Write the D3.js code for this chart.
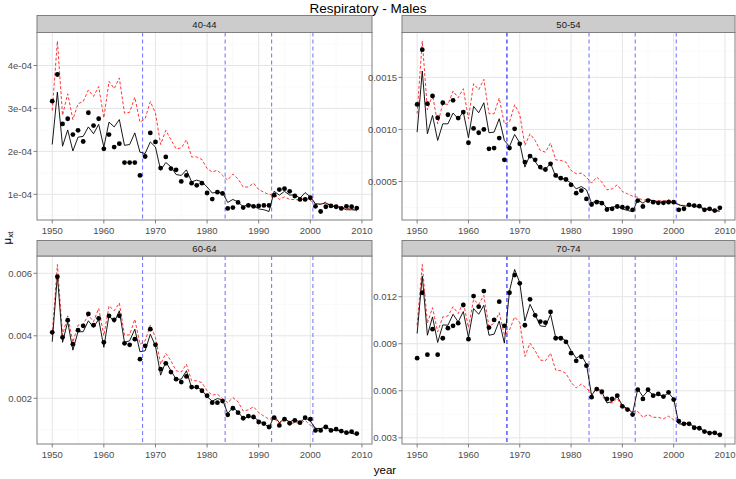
<!DOCTYPE html>
<html><head><meta charset="utf-8">
<script src="https://cdn.jsdelivr.net/npm/d3@7/dist/d3.min.js"></script>
<style>
body{margin:0;background:#fff;}
svg text{font-family:"Liberation Sans Narrow","Arial Narrow","Liberation Sans",Arial,sans-serif;}
</style></head>
<body><svg id="c" width="736" height="479"></svg>
<script>
const years = [1950,1951,1952,1953,1954,1955,1956,1957,1958,1959,1960,1961,1962,1963,1964,1965,1966,1967,1968,1969,
1970,1971,1972,1973,1974,1975,1976,1977,1978,1979,1980,1981,1982,1983,1984,1985,1986,1987,1988,1989,
1990,1991,1992,1993,1994,1995,1996,1997,1998,1999,2000,2001,2002,2003,2004,2005,2006,2007,2008,2009];
const ageGroups = ["40-44","50-54","60-64","70-74"];
const breakYears = [1967.5,1983.5,1992.5,2000.5];
const xTicks = [1950,1960,1970,1980,1990,2000,2010];

// 40-44
const obs4044 = [3.17e-4,3.79e-4,2.64e-4,2.76e-4,2.39e-4,2.49e-4,2.23e-4,2.90e-4,2.60e-4,2.76e-4,2.06e-4,2.39e-4,2.10e-4,2.18e-4,1.74e-4,1.74e-4,1.74e-4,1.44e-4,1.88e-4,2.43e-4,
2.22e-4,1.61e-4,1.87e-4,1.60e-4,1.57e-4,1.30e-4,1.44e-4,1.26e-4,1.21e-4,1.26e-4,1.03e-4,0.89e-4,1.05e-4,1.02e-4,0.67e-4,0.69e-4,0.81e-4,0.69e-4,0.74e-4,0.72e-4,
0.73e-4,0.74e-4,0.74e-4,0.98e-4,1.11e-4,1.13e-4,1.07e-4,0.96e-4,0.88e-4,0.88e-4,0.92e-4,0.72e-4,0.60e-4,0.71e-4,0.73e-4,0.71e-4,0.67e-4,0.72e-4,0.71e-4,0.68e-4];
const fit4044 = [2.16e-4,3.38e-4,2.12e-4,2.50e-4,2.01e-4,2.33e-4,2.35e-4,2.57e-4,2.41e-4,2.63e-4,2.10e-4,2.68e-4,2.57e-4,2.74e-4,2.14e-4,2.16e-4,2.43e-4,1.98e-4,1.95e-4,2.22e-4,
2.10e-4,1.56e-4,1.74e-4,1.64e-4,1.46e-4,1.44e-4,1.57e-4,1.29e-4,1.33e-4,1.29e-4,1.17e-4,1.03e-4,1.05e-4,1.04e-4,0.81e-4,0.88e-4,0.82e-4,0.71e-4,0.77e-4,0.73e-4,
0.66e-4,0.64e-4,0.60e-4,1.07e-4,0.98e-4,1.07e-4,0.98e-4,0.99e-4,0.91e-4,1.04e-4,0.94e-4,0.78e-4,0.77e-4,0.80e-4,0.73e-4,0.71e-4,0.69e-4,0.64e-4,0.64e-4,0.63e-4];
const alt4044 = [2.95e-4,4.57e-4,2.84e-4,3.34e-4,2.74e-4,3.11e-4,3.16e-4,3.43e-4,3.28e-4,3.51e-4,2.78e-4,3.63e-4,3.46e-4,3.71e-4,2.89e-4,2.91e-4,3.26e-4,2.68e-4,2.76e-4,3.16e-4,
2.89e-4,2.16e-4,2.49e-4,2.27e-4,2.06e-4,2.08e-4,2.27e-4,1.87e-4,1.87e-4,1.81e-4,1.60e-4,1.52e-4,1.56e-4,1.44e-4,1.33e-4,1.47e-4,1.36e-4,1.17e-4,1.17e-4,1.26e-4,
1.11e-4,1.05e-4,0.99e-4,1.00e-4,0.88e-4,0.94e-4,0.88e-4,0.88e-4,0.86e-4,0.92e-4,0.86e-4,0.77e-4,0.77e-4,0.82e-4,0.73e-4,0.72e-4,0.71e-4,0.67e-4,0.67e-4,0.61e-4];

// 50-54
const obs5054 = [12.40e-4,17.66e-4,12.47e-4,13.21e-4,11.12e-4,12.56e-4,11.41e-4,12.79e-4,11.09e-4,11.67e-4,8.72e-4,10.10e-4,9.68e-4,10.00e-4,8.14e-4,8.21e-4,9.17e-4,7.08e-4,8.21e-4,10.06e-4,
8.62e-4,6.86e-4,7.44e-4,7.08e-4,6.38e-4,6.15e-4,6.70e-4,5.58e-4,5.32e-4,5.19e-4,4.68e-4,3.88e-4,4.13e-4,3.33e-4,2.79e-4,3.01e-4,2.92e-4,2.31e-4,2.37e-4,2.60e-4,
2.53e-4,2.47e-4,2.28e-4,3.17e-4,2.60e-4,3.17e-4,3.01e-4,2.95e-4,2.95e-4,3.01e-4,3.01e-4,2.28e-4,2.37e-4,2.76e-4,2.69e-4,2.63e-4,2.28e-4,2.37e-4,2.21e-4,2.47e-4];
const fit5054 = [9.74e-4,15.61e-4,9.58e-4,11.35e-4,8.94e-4,10.54e-4,10.54e-4,11.57e-4,11.03e-4,11.67e-4,9.20e-4,12.21e-4,11.60e-4,12.56e-4,9.68e-4,9.74e-4,11.03e-4,8.94e-4,8.37e-4,9.52e-4,
8.69e-4,6.38e-4,7.56e-4,6.92e-4,6.22e-4,6.15e-4,6.76e-4,5.48e-4,5.35e-4,5.19e-4,4.84e-4,4.29e-4,4.52e-4,4.20e-4,2.92e-4,3.17e-4,3.01e-4,2.44e-4,2.53e-4,2.63e-4,
2.37e-4,2.21e-4,2.12e-4,3.24e-4,2.92e-4,3.27e-4,3.11e-4,3.01e-4,3.01e-4,3.11e-4,3.01e-4,2.76e-4,2.63e-4,2.69e-4,2.63e-4,2.53e-4,2.37e-4,2.31e-4,2.21e-4,2.15e-4];
const alt5054 = [11.51e-4,18.49e-4,11.89e-4,13.33e-4,10.54e-4,12.47e-4,12.40e-4,13.69e-4,13.04e-4,13.91e-4,11.03e-4,14.39e-4,13.81e-4,14.81e-4,11.51e-4,11.51e-4,13.01e-4,10.54e-4,10.71e-4,12.37e-4,
11.44e-4,8.46e-4,9.58e-4,8.94e-4,7.98e-4,7.82e-4,8.69e-4,7.08e-4,7.02e-4,6.86e-4,6.06e-4,5.74e-4,5.80e-4,5.42e-4,4.84e-4,5.42e-4,4.94e-4,4.20e-4,4.29e-4,4.68e-4,
4.04e-4,3.81e-4,3.59e-4,3.49e-4,3.17e-4,3.33e-4,3.17e-4,3.17e-4,3.11e-4,3.27e-4,3.01e-4,2.79e-4,2.69e-4,2.79e-4,2.63e-4,2.60e-4,2.37e-4,2.31e-4,2.21e-4,2.15e-4];

// 60-64
const obs6064 = [4.11e-3,5.89e-3,3.95e-3,4.50e-3,3.73e-3,4.18e-3,4.32e-3,4.70e-3,4.34e-3,4.56e-3,3.79e-3,4.64e-3,4.51e-3,4.64e-3,3.76e-3,3.71e-3,3.89e-3,3.25e-3,3.68e-3,4.21e-3,
3.71e-3,2.93e-3,3.12e-3,2.84e-3,2.61e-3,2.52e-3,2.70e-3,2.36e-3,2.36e-3,2.24e-3,2.08e-3,1.86e-3,1.86e-3,1.91e-3,1.47e-3,1.68e-3,1.54e-3,1.36e-3,1.43e-3,1.40e-3,
1.24e-3,1.19e-3,1.08e-3,1.38e-3,1.13e-3,1.33e-3,1.20e-3,1.29e-3,1.22e-3,1.38e-3,1.33e-3,0.97e-3,0.97e-3,1.08e-3,0.97e-3,1.01e-3,0.95e-3,0.90e-3,0.93e-3,0.87e-3];
const fit6064 = [3.81e-3,5.93e-3,3.79e-3,4.45e-3,3.54e-3,4.13e-3,4.13e-3,4.48e-3,4.27e-3,4.53e-3,3.63e-3,4.66e-3,4.43e-3,4.80e-3,3.79e-3,3.84e-3,4.21e-3,3.49e-3,3.52e-3,4.05e-3,
3.68e-3,2.74e-3,3.17e-3,2.88e-3,2.61e-3,2.61e-3,2.88e-3,2.34e-3,2.36e-3,2.26e-3,2.05e-3,1.91e-3,1.99e-3,1.95e-3,1.51e-3,1.71e-3,1.56e-3,1.36e-3,1.40e-3,1.41e-3,
1.27e-3,1.20e-3,1.06e-3,1.43e-3,1.22e-3,1.35e-3,1.24e-3,1.33e-3,1.22e-3,1.38e-3,1.27e-3,1.03e-3,1.03e-3,1.08e-3,0.98e-3,0.98e-3,0.95e-3,0.90e-3,0.90e-3,0.82e-3];
const alt6064 = [4.02e-3,6.28e-3,4.02e-3,4.64e-3,3.79e-3,4.34e-3,4.37e-3,4.66e-3,4.45e-3,4.88e-3,4.00e-3,4.96e-3,4.80e-3,5.05e-3,4.02e-3,4.03e-3,4.53e-3,3.73e-3,3.84e-3,4.34e-3,
3.95e-3,3.09e-3,3.44e-3,3.20e-3,2.88e-3,2.84e-3,3.09e-3,2.56e-3,2.56e-3,2.50e-3,2.24e-3,2.10e-3,2.13e-3,1.99e-3,1.86e-3,2.02e-3,1.89e-3,1.59e-3,1.63e-3,1.73e-3,
1.54e-3,1.43e-3,1.33e-3,1.35e-3,1.20e-3,1.29e-3,1.19e-3,1.22e-3,1.20e-3,1.29e-3,1.14e-3,1.06e-3,1.03e-3,1.11e-3,0.98e-3,0.97e-3,0.95e-3,0.90e-3,0.88e-3,0.81e-3];

// 70-74
const obs7074 = [8.08e-3,12.25e-3,8.30e-3,9.93e-3,8.30e-3,9.35e-3,9.99e-3,10.14e-3,10.31e-3,11.47e-3,9.29e-3,12.04e-3,11.36e-3,12.36e-3,10.03e-3,10.52e-3,11.68e-3,10.14e-3,12.25e-3,13.38e-3,
12.85e-3,10.18e-3,11.83e-3,10.81e-3,10.41e-3,10.35e-3,11.03e-3,9.35e-3,9.35e-3,9.12e-3,8.40e-3,7.91e-3,8.17e-3,7.60e-3,5.59e-3,6.11e-3,5.94e-3,5.48e-3,5.48e-3,5.69e-3,
5.01e-3,4.80e-3,4.48e-3,6.07e-3,5.48e-3,6.07e-3,5.69e-3,5.80e-3,5.63e-3,5.90e-3,5.44e-3,4.06e-3,3.89e-3,3.89e-3,3.64e-3,3.61e-3,3.40e-3,3.30e-3,3.32e-3,3.19e-3];
const fit7074 = [9.65e-3,13.31e-3,9.54e-3,10.71e-3,9.08e-3,10.20e-3,10.18e-3,10.88e-3,10.39e-3,11.05e-3,9.40e-3,11.24e-3,10.88e-3,11.45e-3,9.54e-3,9.61e-3,10.45e-3,9.04e-3,12.36e-3,13.74e-3,
12.89e-3,10.45e-3,11.51e-3,10.84e-3,10.14e-3,10.09e-3,10.88e-3,9.40e-3,9.40e-3,9.18e-3,8.55e-3,8.08e-3,8.27e-3,7.70e-3,5.69e-3,6.18e-3,5.94e-3,5.22e-3,5.31e-3,5.65e-3,
5.06e-3,4.85e-3,4.59e-3,6.11e-3,5.63e-3,6.01e-3,5.73e-3,5.75e-3,5.65e-3,5.86e-3,5.48e-3,3.89e-3,3.85e-3,3.93e-3,3.68e-3,3.61e-3,3.42e-3,3.32e-3,3.32e-3,3.15e-3];
const alt7074 = [10.18e-3,14.05e-3,10.31e-3,11.30e-3,9.76e-3,10.71e-3,10.77e-3,11.36e-3,10.92e-3,11.66e-3,10.03e-3,11.83e-3,11.51e-3,12.08e-3,10.09e-3,10.31e-3,10.98e-3,9.57e-3,9.88e-3,10.71e-3,
10.35e-3,8.19e-3,9.04e-3,8.55e-3,7.96e-3,7.91e-3,8.40e-3,7.32e-3,7.28e-3,7.11e-3,6.54e-3,6.18e-3,6.43e-3,6.16e-3,5.80e-3,6.16e-3,5.69e-3,5.27e-3,5.22e-3,5.52e-3,
4.95e-3,4.85e-3,4.68e-3,4.68e-3,4.31e-3,4.48e-3,4.31e-3,4.31e-3,4.21e-3,4.38e-3,4.14e-3,3.96e-3,3.85e-3,4.00e-3,3.72e-3,3.64e-3,3.40e-3,3.32e-3,3.32e-3,3.15e-3];

const yTicks4044 = [1e-4,2e-4,3e-4,4e-4];
const yLabels4044 = ["1e-04","2e-04","3e-04","4e-04"];
const yTicks5054 = [0.0005,0.0010,0.0015];
const yLabels5054 = ["0.0005","0.0010","0.0015"];
const yTicks6064 = [0.002,0.004,0.006];
const yLabels6064 = ["0.002","0.004","0.006"];
const yTicks7074 = [0.003,0.006,0.009,0.012];
const yLabels7074 = ["0.003","0.006","0.009","0.012"];

const panels = [
  {name:ageGroups[0], obs:obs4044, fit:fit4044, alt:alt4044, ticks:yTicks4044, labels:yLabels4044, col:0, row:0, darkFirst:false},
  {name:ageGroups[1], obs:obs5054, fit:fit5054, alt:alt5054, ticks:yTicks5054, labels:yLabels5054, col:1, row:0, darkFirst:true},
  {name:ageGroups[2], obs:obs6064, fit:fit6064, alt:alt6064, ticks:yTicks6064, labels:yLabels6064, col:0, row:1, darkFirst:false},
  {name:ageGroups[3], obs:obs7074, fit:fit7074, alt:alt7074, ticks:yTicks7074, labels:yLabels7074, col:1, row:1, darkFirst:true}
];

const colX = [[37,372],[402,735]];
const rowY = [{strip:15.5, top:32.5, bottom:220},{strip:240.5, top:256, bottom:444}];

const svg = d3.select("#c");
const textCol = "#4d4d4d";

svg.append("text").attr("x",368).attr("y",13).attr("text-anchor","middle")
  .attr("font-size",13.5).attr("fill","#000").text("Respiratory - Males");
svg.append("text").attr("x",385).attr("y",474).attr("text-anchor","middle")
  .attr("font-size",11.5).attr("fill","#000").text("year");
const yl = svg.append("text").attr("transform","translate(11,238) rotate(-90)").attr("text-anchor","middle")
  .attr("font-size",11.5).attr("fill","#000");
yl.append("tspan").text("μ");
yl.append("tspan").attr("font-size",8).attr("dy",2).text("xt");

const xExt = d3.extent(years);
const xPad = (xExt[1]-xExt[0])*0.05;

panels.forEach(p => {
  const [x0,x1] = colX[p.col];
  const r = rowY[p.row];
  const x = d3.scaleLinear().domain([xExt[0]-xPad, xExt[1]+xPad]).range([x0,x1]);
  const all = p.obs.concat(p.fit, p.alt);
  const ext = d3.extent(all);
  const yPad = (ext[1]-ext[0])*0.05;
  const y = d3.scaleLinear().domain([ext[0]-yPad, ext[1]+yPad]).range([r.bottom, r.top]);
  const g = svg.append("g");

  g.append("rect").attr("x",x0).attr("y",r.top).attr("width",x1-x0).attr("height",r.bottom-r.top).attr("fill","#fff");
  // minor grid
  const xMinor = xTicks.slice(0,-1).map(t=>t+5).concat([1945]).filter(t=>t>x.domain()[0]&&t<x.domain()[1]);
  g.selectAll(".xm").data(xMinor).enter().append("line")
    .attr("x1",d=>x(d)).attr("x2",d=>x(d)).attr("y1",r.top).attr("y2",r.bottom)
    .attr("stroke","#f7f7f7").attr("stroke-width",0.6);
  const step = p.ticks[1]-p.ticks[0];
  const yMinor = [p.ticks[0]-step/2].concat(p.ticks.map(t=>t+step/2)).filter(t=>t>y.domain()[0]&&t<y.domain()[1]);
  g.selectAll(".ym").data(yMinor).enter().append("line")
    .attr("y1",d=>y(d)).attr("y2",d=>y(d)).attr("x1",x0).attr("x2",x1)
    .attr("stroke","#f7f7f7").attr("stroke-width",0.6);
  // major grid
  g.selectAll(".xg").data(xTicks).enter().append("line")
    .attr("x1",d=>x(d)).attr("x2",d=>x(d)).attr("y1",r.top).attr("y2",r.bottom)
    .attr("stroke","#e5e5e5").attr("stroke-width",1);
  g.selectAll(".yg").data(p.ticks).enter().append("line")
    .attr("y1",d=>y(d)).attr("y2",d=>y(d)).attr("x1",x0).attr("x2",x1)
    .attr("stroke","#e5e5e5").attr("stroke-width",1);

  // break lines
  g.selectAll(".br").data(breakYears).enter().append("line")
    .attr("x1",d=>x(d)).attr("x2",d=>x(d)).attr("y1",r.top).attr("y2",r.bottom)
    .attr("stroke",(d,i)=> (i===0 && p.darkFirst) ? "#1a1aff" : "#7b7bff")
    .attr("stroke-width",1.1).attr("stroke-dasharray","4,3");

  // red dashed alternative
  const line = arr => d3.line().x((d,i)=>x(years[i])).y(d=>y(d))(arr);
  g.append("path").attr("d",line(p.alt)).attr("fill","none").attr("stroke","#ff2020")
    .attr("stroke-width",0.9).attr("stroke-dasharray","3,2");
  // black fitted
  g.append("path").attr("d",line(p.fit)).attr("fill","none").attr("stroke","#000").attr("stroke-width",0.9);
  // points
  g.selectAll(".pt").data(p.obs).enter().append("circle")
    .attr("cx",(d,i)=>x(years[i])).attr("cy",d=>y(d)).attr("r",2.4).attr("fill","#000");

  // border
  g.append("rect").attr("x",x0).attr("y",r.top).attr("width",x1-x0).attr("height",r.bottom-r.top)
    .attr("fill","none").attr("stroke","#7f7f7f").attr("stroke-width",1);
  // strip
  g.append("rect").attr("x",x0).attr("y",r.strip).attr("width",x1-x0).attr("height",r.top-r.strip)
    .attr("fill","#cccccc").attr("stroke","#7f7f7f").attr("stroke-width",1);
  g.append("text").attr("x",(x0+x1)/2).attr("y",(r.strip+r.top)/2+3.5).attr("text-anchor","middle")
    .attr("font-size",9.5).attr("fill","#1a1a1a").text(p.name);

  // axes
  g.selectAll(".xt").data(xTicks).enter().append("line")
    .attr("x1",d=>x(d)).attr("x2",d=>x(d)).attr("y1",r.bottom).attr("y2",r.bottom+3.5)
    .attr("stroke","#7f7f7f");
  g.selectAll(".xl").data(xTicks).enter().append("text")
    .attr("x",d=>x(d)).attr("y",r.bottom+14).attr("text-anchor","middle")
    .attr("font-size",9.5).attr("fill",textCol).text(d=>d);
  g.selectAll(".yt").data(p.ticks).enter().append("line")
    .attr("y1",d=>y(d)).attr("y2",d=>y(d)).attr("x1",x0-3.5).attr("x2",x0)
    .attr("stroke","#7f7f7f");
  g.selectAll(".yl").data(p.ticks).enter().append("text")
    .attr("x",x0-5).attr("y",d=>y(d)+3.3).attr("text-anchor","end")
    .attr("font-size",9.5).attr("fill",textCol).text((d,i)=>p.labels[i]);
});
</script></body></html>
